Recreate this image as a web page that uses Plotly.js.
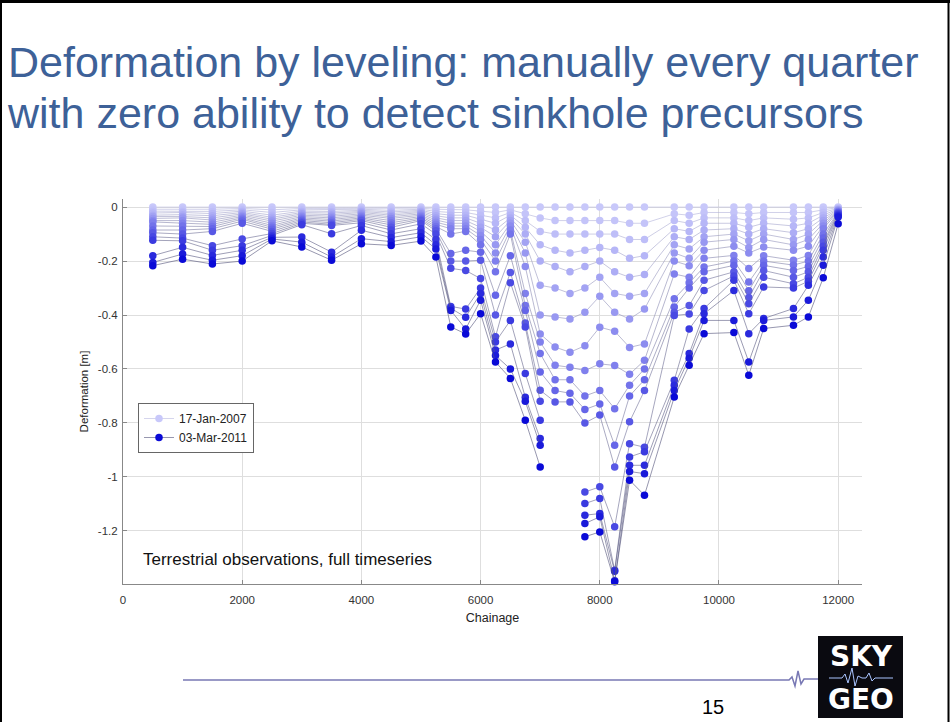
<!DOCTYPE html>
<html><head><meta charset="utf-8">
<script src="https://cdn.plot.ly/plotly-3.0.1.min.js"></script>
<style>html,body{margin:0;padding:0;background:#fff;} #chart{width:950px;height:722px;}</style>
</head><body><div id="chart"></div>
<script>
// Chainage of leveling benchmarks
const chainage = [500,1000,1500,2000,2500,3000,3500,4000,4500,5000,5250,5500,5750,6000,6250,6500,6750,7000,7250,7500,7750,8000,8250,8500,8750,9250,9500,9750,10250,10500,10750,11250,11500,11750,12000];

// Deformation [m] per leveling epoch (quarterly, 17-Jan-2007 ... 03-Mar-2011)
const ep00 = [0,0,0,0,0,0,0,0,0,0,0,0,0,0,0,0,0,0,0,0,0,0,0,0,0,0,0,0,0,0,0,0,0,0,0];
const ep01 = [-0.008,-0.008,-0.008,-0.005,-0.01,-0.005,-0.005,-0.004,-0.006,-0.004,-0.008,-0.01,-0.01,-0.015,-0.02,-0.01,-0.025,-0.04,-0.05,-0.05,-0.05,-0.05,-0.05,-0.06,-0.06,-0.025,-0.03,-0.02,-0.02,-0.025,-0.02,-0.02,-0.02,-0.01,-0.002];
const ep02 = [-0.015,-0.015,-0.016,-0.01,-0.02,-0.01,-0.01,-0.008,-0.012,-0.008,-0.016,-0.02,-0.02,-0.03,-0.04,-0.02,-0.05,-0.09,-0.1,-0.1,-0.1,-0.1,-0.1,-0.12,-0.12,-0.05,-0.06,-0.04,-0.04,-0.05,-0.04,-0.045,-0.04,-0.02,-0.004];
const ep03 = [-0.022,-0.02,-0.024,-0.015,-0.03,-0.015,-0.016,-0.012,-0.018,-0.012,-0.024,-0.03,-0.03,-0.045,-0.06,-0.03,-0.075,-0.14,-0.16,-0.17,-0.16,-0.15,-0.16,-0.19,-0.18,-0.08,-0.09,-0.06,-0.06,-0.075,-0.06,-0.07,-0.06,-0.03,-0.006];
const ep04 = [-0.03,-0.028,-0.032,-0.02,-0.038,-0.02,-0.022,-0.016,-0.024,-0.016,-0.032,-0.04,-0.04,-0.06,-0.085,-0.04,-0.1,-0.2,-0.22,-0.24,-0.22,-0.2,-0.24,-0.26,-0.25,-0.11,-0.12,-0.085,-0.08,-0.1,-0.08,-0.095,-0.08,-0.04,-0.008];
const ep05 = [-0.035,-0.035,-0.04,-0.025,-0.045,-0.025,-0.028,-0.02,-0.03,-0.02,-0.04,-0.05,-0.05,-0.075,-0.11,-0.05,-0.13,-0.29,-0.3,-0.32,-0.3,-0.26,-0.32,-0.33,-0.32,-0.14,-0.155,-0.11,-0.1,-0.125,-0.1,-0.12,-0.1,-0.05,-0.01];
const ep06 = [-0.042,-0.04,-0.048,-0.03,-0.052,-0.03,-0.034,-0.025,-0.036,-0.025,-0.048,-0.06,-0.06,-0.09,-0.14,-0.06,-0.17,-0.4,-0.407,-0.415,-0.39,-0.33,-0.39,-0.415,-0.378,-0.17,-0.19,-0.13,-0.12,-0.15,-0.12,-0.14,-0.12,-0.06,-0.012];
const ep07 = [-0.05,-0.05,-0.056,-0.035,-0.06,-0.035,-0.04,-0.03,-0.042,-0.03,-0.056,-0.07,-0.07,-0.105,-0.17,-0.07,-0.22,-0.47,-0.519,-0.538,-0.514,-0.445,-0.46,-0.52,-0.507,-0.2,-0.217,-0.16,-0.145,-0.17,-0.148,-0.16,-0.145,-0.07,-0.014];
const ep08 = [-0.055,-0.06,-0.064,-0.04,-0.068,-0.04,-0.046,-0.035,-0.05,-0.035,-0.064,-0.08,-0.08,-0.12,-0.2,-0.085,-0.32,-0.5,-0.586,-0.594,-0.606,-0.581,-0.587,-0.62,-0.568,-0.248,-0.26,-0.19,-0.179,-0.228,-0.18,-0.197,-0.179,-0.08,-0.016];
const ep09 = [-0.07,-0.07,-0.072,-0.045,-0.075,-0.045,-0.052,-0.04,-0.058,-0.04,-0.072,-0.1,-0.09,-0.14,-0.24,-0.1,-0.365,-0.543,-0.64,-0.64,-0.7,-0.68,-0.747,-0.66,-0.6,-0.34,-0.28,-0.222,-0.2,-0.278,-0.2,-0.215,-0.2,-0.1,-0.018];
const ep10 = [-0.085,-0.085,-0.08,-0.052,-0.082,-0.05,-0.058,-0.045,-0.066,-0.045,-0.08,-0.172,-0.16,-0.167,-0.327,-0.18,-0.383,-0.611,-0.68,-0.69,-0.75,-0.73,-0.883,-0.7,-0.64,-0.37,-0.3,-0.24,-0.216,-0.31,-0.216,-0.235,-0.22,-0.115,-0.02];
const ep11 = [-0.095,-0.1,-0.09,-0.06,-0.09,-0.055,-0.064,-0.05,-0.075,-0.05,-0.088,-0.2,-0.2,-0.197,-0.4,-0.242,-0.43,-0.679,-0.722,-0.722,-0.8,-0.771,-0.963,-0.796,-0.68,-0.39,-0.365,-0.271,-0.24,-0.335,-0.235,-0.26,-0.24,-0.13,-0.022];
const ep12 = [-0.11,-0.115,-0.143,-0.118,-0.098,-0.06,-0.068,-0.058,-0.085,-0.062,-0.1,-0.227,-0.235,-0.265,-0.481,-0.28,-0.444,-0.72,null,null,-1.056,-1.037,-1.185,-0.877,-0.89,-0.402,-0.396,-0.309,-0.255,-0.358,-0.26,-0.284,-0.26,-0.145,-0.025];
const ep13 = [-0.123,-0.125,-0.16,-0.143,-0.105,-0.065,-0.099,-0.068,-0.099,-0.08,-0.12,-0.368,-0.378,-0.3,-0.5,-0.42,-0.617,-0.79,null,null,-1.099,-1.08,-1.346,-0.926,-0.907,-0.642,-0.452,-0.376,-0.271,-0.395,-0.296,-0.3,-0.275,-0.16,-0.028];
const ep14 = [-0.18,-0.149,-0.179,-0.16,-0.112,-0.111,-0.167,-0.086,-0.113,-0.095,-0.14,-0.375,-0.408,-0.32,-0.53,-0.507,-0.705,-0.858,null,null,-1.142,-1.136,-1.35,-0.957,-0.957,-0.66,-0.543,-0.395,-0.309,-0.469,-0.413,-0.376,-0.29,-0.185,-0.032];
const ep15 = [-0.205,-0.174,-0.197,-0.18,-0.118,-0.13,-0.185,-0.117,-0.128,-0.11,-0.155,-0.383,-0.452,-0.345,-0.55,-0.6,-0.72,-0.883,null,null,-1.173,-1.148,-1.385,-0.98,-0.988,-0.68,-0.56,-0.42,-0.42,-0.574,-0.42,-0.407,-0.345,-0.216,-0.037];
const ep16 = [-0.217,-0.193,-0.211,-0.2,-0.125,-0.148,-0.197,-0.136,-0.142,-0.126,-0.185,-0.444,-0.47,-0.395,-0.574,-0.635,-0.79,-0.963,null,null,-1.222,-1.204,-1.389,-1.012,-1.068,-0.704,-0.586,-0.469,-0.465,-0.623,-0.45,-0.438,-0.407,-0.262,-0.062];

const firstEpochName = '17-Jan-2007';
const lastEpochName = '03-Mar-2011';

const xTickVals = [0,2000,4000,6000,8000,10000,12000];
const xTickText = ['0','2000','4000','6000','8000','10000','12000'];
const yTickVals = [0,-0.2,-0.4,-0.6,-0.8,-1,-1.2];
const yTickText = ['0','-0.2','-0.4','-0.6','-0.8','-1','-1.2'];

const titleLine1 = 'Deformation by leveling: manually every quarter';
const titleLine2 = 'with zero ability to detect sinkhole precursors';

const epochs = [ep00,ep01,ep02,ep03,ep04,ep05,ep06,ep07,ep08,ep09,ep10,ep11,ep12,ep13,ep14,ep15,ep16];

// geometry helpers (pixel -> paper)
const L = 123, R = 88, T = 199, B = 138, W = 950, H = 722;
const PW = W - L - R, PH = H - T - B;
const px = x => (x - L) / PW;
const py = y => (H - B - y) / PH;

const light = [200,200,250], dark = [10,10,215];
const n = epochs.length;
const traces = epochs.map((ys, k) => {
  const t = Math.pow(k / (n - 1), 1.4);
  const c = light.map((v, i) => Math.round(v + (dark[i] - v) * t));
  const g = Math.round(195 - 105 * (k / (n - 1)));
  const isFirst = k === 0, isLast = k === n - 1;
  return {
    x: chainage, y: ys, type: 'scatter', mode: 'lines+markers',
    name: isFirst ? firstEpochName : (isLast ? lastEpochName : 'epoch ' + k),
    showlegend: isFirst || isLast,
    connectgaps: false, cliponaxis: false, hoverinfo: 'skip',
    marker: {color: `rgb(${c[0]},${c[1]},${c[2]})`, size: 7.5, line: {width: 0}},
    line: {color: `rgba(${g-10},${g-10},${Math.min(255,g+30)},0.75)`, width: 0.8}
  };
});

const font = 'Liberation Sans, Arial, sans-serif';
const hb = 'M' + [[183,680],[789,680],[792,677],[795,686],[798,671],[801,684],[804,679],[818,679]].map(p => px(p[0]) + ',' + py(p[1])).join(' L');
const logoHb = 'M' + [[829,678],[842,678],[845,674],[848,683],[852,668],[855,686],[858,676],[862,678],[866,678],[869,673],[872,681],[875,678],[893,678]].map(p => px(p[0]) + ',' + py(p[1])).join(' L');

const layout = {
  width: W, height: H,
  margin: {l: L, r: R, t: T, b: B, pad: 0},
  paper_bgcolor: '#fff', plot_bgcolor: '#fff',
  font: {family: font, color: '#333'},
  title: {
    text: titleLine1,
    x: 8 / W, xref: 'container', xanchor: 'left',
    y: 1 - 62 / H, yref: 'container', yanchor: 'middle',
    font: {family: font, size: 43, color: '#3d6198'}
  },
  xaxis: {
    range: [0, 12400], tickmode: 'array', tickvals: xTickVals, ticktext: xTickText,
    ticks: 'inside', ticklen: 4, tickcolor: '#888', showline: true, linecolor: '#888', linewidth: 1,
    showgrid: true, gridcolor: '#dedede', gridwidth: 1, zeroline: false,
    ticklabelstandoff: 5,
    tickfont: {size: 11.5, color: '#333'},
    title: {text: 'Chainage', font: {size: 12.5, color: '#222'}, standoff: 8}
  },
  yaxis: {
    range: [-1.397, 0.03], tickmode: 'array', tickvals: yTickVals, ticktext: yTickText,
    ticks: 'inside', ticklen: 4, tickcolor: '#888', showline: true, linecolor: '#888', linewidth: 1,
    showgrid: true, gridcolor: '#dedede', gridwidth: 1, zeroline: false,
    ticklabelstandoff: 2,
    tickfont: {size: 11.5, color: '#333'},
    title: {text: 'Deformation [m]', font: {size: 11.5, color: '#222'}, standoff: 6}
  },
  legend: {
    x: px(138), y: py(403), xanchor: 'left', yanchor: 'top',
    bgcolor: '#fff', bordercolor: '#666', borderwidth: 1,
    font: {size: 12, color: '#222'}, tracegroupgap: 0
  },
  annotations: [
    {text: titleLine2, xref: 'paper', yref: 'paper', x: px(5), y: py(113), xanchor: 'left', yanchor: 'middle', showarrow: false, font: {family: font, size: 43, color: '#3d6198'}},
    {text: 'Terrestrial observations, full timeseries', xref: 'paper', yref: 'paper', x: px(141), y: py(559), xanchor: 'left', yanchor: 'middle', showarrow: false, font: {size: 17, color: '#111'}},
    {text: '15', xref: 'paper', yref: 'paper', x: px(713), y: py(707), xanchor: 'center', yanchor: 'middle', showarrow: false, font: {size: 20, color: '#000'}},
    {text: '<b>SKY</b>', xref: 'paper', yref: 'paper', x: px(861), y: py(656), xanchor: 'center', yanchor: 'middle', showarrow: false, font: {family: 'DejaVu Sans, sans-serif', size: 28, color: '#fff'}},
    {text: '<b>GEO</b>', xref: 'paper', yref: 'paper', x: px(861), y: py(699), xanchor: 'center', yanchor: 'middle', showarrow: false, font: {family: 'DejaVu Sans, sans-serif', size: 28, color: '#fff'}}
  ],
  shapes: [
    {type: 'rect', xref: 'paper', yref: 'paper', x0: px(1), x1: px(948.5), y0: py(2), y1: py(760), line: {color: '#000', width: 2}},
    {type: 'line', xref: 'paper', yref: 'paper', x0: px(0), x1: px(950), y0: py(1.5), y1: py(1.5), line: {color: '#000', width: 3}},
    {type: 'path', xref: 'paper', yref: 'paper', path: hb, line: {color: '#7878b4', width: 1.5}},
    {type: 'rect', xref: 'paper', yref: 'paper', x0: px(818), x1: px(903), y0: py(636), y1: py(718), fillcolor: '#0a0a10', line: {width: 0}},
    {type: 'path', xref: 'paper', yref: 'paper', path: logoHb, line: {color: '#a9c4ff', width: 1}}
  ]
};

Plotly.newPlot('chart', traces, layout, {displayModeBar: false, staticPlot: true});
</script>
</body></html>
